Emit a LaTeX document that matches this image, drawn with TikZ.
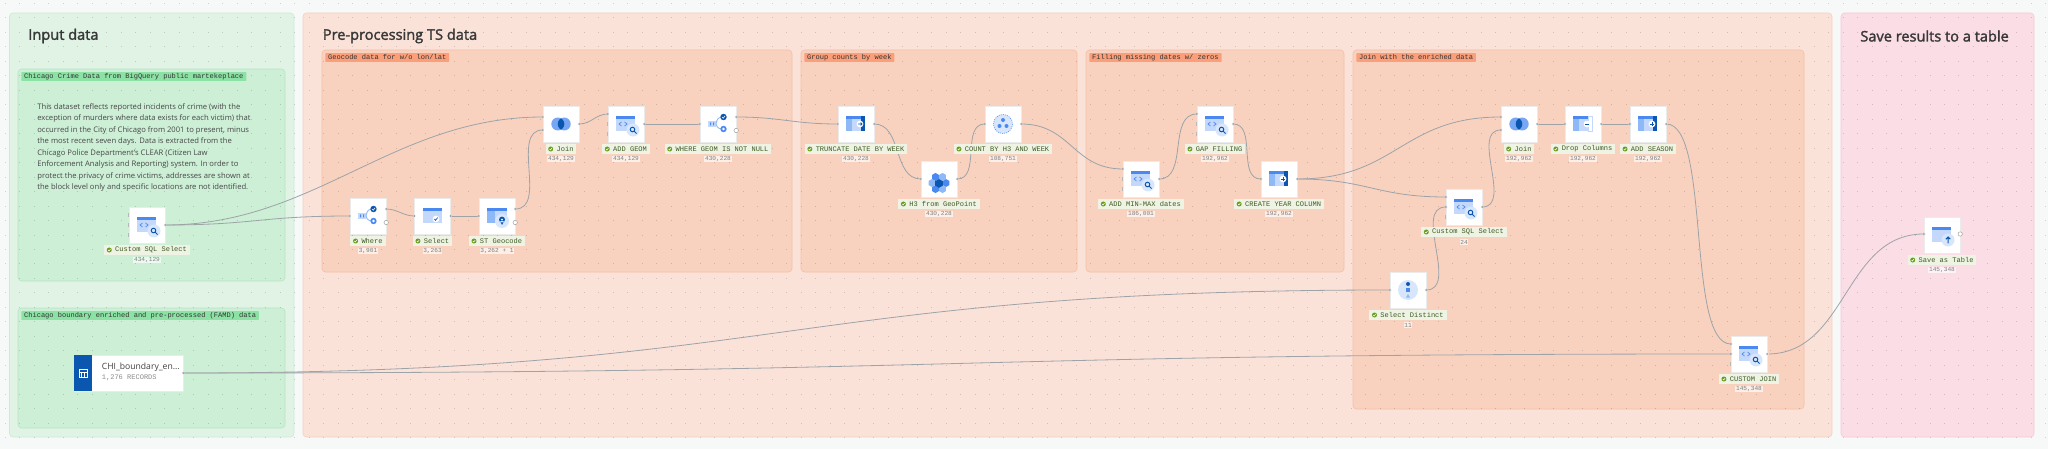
\documentclass[tikz,border=0pt]{standalone}
\usepackage{fontspec}
\setmainfont{Open Sans}
\setmonofont{Liberation Mono}
\def\heavytext#1{\special{pdf:code 2 Tr 0.16 w}#1\special{pdf:code 0 Tr 0 w}}
\usetikzlibrary{calc}

\definecolor{canvas}{HTML}{F7F9F8}
\definecolor{inputbg}{HTML}{E0F3E5}
\definecolor{inputln}{HTML}{CBEBD5}
\definecolor{inputsub}{HTML}{CCEFD6}
\definecolor{inputsubln}{HTML}{B7E6C5}
\definecolor{inputtag}{HTML}{8CE2A4}
\definecolor{prebg}{HTML}{FAE2D9}
\definecolor{preln}{HTML}{F7CFBC}
\definecolor{presub}{HTML}{F8D2BF}
\definecolor{presubln}{HTML}{F6BFA6}
\definecolor{pretag}{HTML}{FB9F7A}
\definecolor{savebg}{HTML}{FBDDE6}
\definecolor{saveln}{HTML}{F8C8D8}
\definecolor{icmid}{HTML}{4A8AF0}
\definecolor{iclight}{HTML}{C3D8FA}
\definecolor{icsoft}{HTML}{8FB8F6}
\definecolor{ichalo}{HTML}{D8E6FC}
\definecolor{icdark}{HTML}{0B57B0}
\definecolor{okgreen}{HTML}{6A9C1F}
\definecolor{labelink}{HTML}{3F5A22}
\definecolor{labelbg}{HTML}{EEF3E4}
\definecolor{wirecol}{HTML}{9EA3A8}

\pgfdeclarelayer{bg}
\pgfdeclarelayer{wires}
\pgfsetlayers{bg,wires,main}

\def\tablebase{
	\fill[iclight] (-10,-5) rectangle (9,7);
	\fill[icmid] (-10,-8) rectangle (9,-5);
}
\def\colbase{
	\fill[icsoft] (-10,-5) rectangle (-4,7);
	\fill[iclight] (-4,-5) rectangle (5,7);
	\fill[icmid] (-10,-8) rectangle (5,-5);
}

\tikzset{
	panel/.style={rounded corners=2pt, line width=0.35pt},
	titletext/.style={anchor=west, inner sep=0, text=black!78, font=\fontsize{8.3}{10}\selectfont},
	tagbox/.style={anchor=west, inner xsep=1.6pt, inner ysep=0, minimum height=5.1pt, rounded corners=0.4pt, text=black!80, font=\ttfamily\fontsize{4}{5}\selectfont},
	stepbox/.style={draw=black!8, line width=0.2pt, fill=white, minimum size=0.72cm, inner sep=0},
	steplabel/.style={fill=labelbg, inner xsep=1.7pt, inner ysep=0, minimum height=5.7pt, text=labelink, font=\ttfamily\fontsize{4}{5}\selectfont},
	stepcount/.style={fill=white, fill opacity=0.65, text opacity=1, inner xsep=0.4pt, inner ysep=0.3pt, text=black!50, font=\ttfamily\fontsize{3.5}{4}\selectfont},
	port/.style={circle, fill=black!42, draw=white, line width=0.12pt, minimum size=1.6pt, inner sep=0},
	openport/.style={circle, fill=white, draw=black!40, line width=0.25pt, minimum size=2.5pt, inner sep=0},
	stubport/.style={fill=black!28, minimum width=0.7pt, minimum height=2.2pt, inner sep=0},
	wire/.style={draw=wirecol, line width=0.46pt},
	checkmark/.pic={
		\fill[okgreen] (0,0) circle (2.5);
		\draw[white, line width=0.3pt] (-1.2,0) -- (-0.3,1) -- (1.2,-0.9);
	},
	sqlicon/.pic={
		\tablebase
		\fill[ichalo] (7,6) circle (6.5);
		\draw[icmid, line width=0.4pt] (-4.5,-2) -- (-7,0) -- (-4.5,2);
		\draw[icmid, line width=0.4pt] (-1.5,-2) -- (1,0) -- (-1.5,2);
		\draw[icdark, line width=0.55pt] (6.5,5.5) circle (2.3) (8.2,7.2) -- (10.5,9.5);
	},
	selecticon/.pic={
		\tablebase
		\fill[white] (3.5,3) circle (3.4);
		\draw[icdark, line width=0.4pt] (1.8,3) -- (3,4.3) -- (5.2,1.6);
	},
	geoicon/.pic={
		\fill[icsoft] (-10,-5) rectangle (10,7);
		\fill[iclight] (-2,-5) rectangle (10,7);
		\fill[icmid] (-10,-8) rectangle (10,-5);
		\fill[ichalo] (5,5) circle (7);
		\fill[icdark] (5,3.6) circle (3) (3,5) -- (5,9) -- (7,5) -- cycle;
		\fill[white] (5,3.6) circle (1);
	},
	whereicon/.pic={
		\fill[iclight] (-10,-3) rectangle (-2,3);
		\fill[icmid] (-8,-1.5) rectangle (-6.8,1.5) (-5,-1.5) rectangle (-3.8,1.5);
		\draw[icsoft, line width=0.5pt] (-2,0) .. controls (-1,-6) and (1,-7) .. (5.5,-7);
		\draw[icsoft, line width=0.5pt] (-2,0) .. controls (-1,4) and (1,5) .. (5.5,5);
		\fill[icdark] (5.5,-7) circle (3.2);
		\draw[white, line width=0.35pt] (4,-7) -- (5.2,-5.8) -- (7.1,-8.2);
		\fill[icmid] (5.5,5) circle (3.2);
		\fill[white] (5.5,5) circle (1.3);
	},
	joinicon/.pic={
		\fill[icmid!75!white] (-3.2,0) circle (6.5) (3.2,0) circle (6.5);
		\begin{scope}
			\clip (-3.2,0) circle (6.5);
			\fill[icdark] (3.2,0) circle (6.5);
		\end{scope}
	},
	truncicon/.pic={
		\colbase
		\fill[icdark] (5,-8) rectangle (9,7);
		\fill[white] (4,0) circle (3.4);
		\draw[icdark, line width=0.4pt] (2,0) -- (6,0) (4.6,-1.5) -- (6,0) -- (4.6,1.5);
	},
	addicon/.pic={
		\colbase
		\fill[icdark] (5,-8) rectangle (9,7);
		\fill[white] (4,0) circle (3.4);
		\draw[icdark, line width=0.4pt] (2,0) -- (6,0) (4,-2) -- (4,2);
	},
	dropicon/.pic={
		\colbase
		\fill[white] (5,-8) rectangle (9,7);
		\draw[iclight, line width=0.3pt] (5,-8) rectangle (9,7);
		\fill[white] (4,0) circle (3.4);
		\draw[icdark, line width=0.5pt] (2,0) -- (6,0);
	},
	hexicon/.pic={
		\foreach \a/\c in {0/icmid,60/icsoft,120/icmid,180/icsoft,240/icmid,300/icsoft}{
			\fill[\c] (\a:7) ++(30:4) -- ++(90:4) -- ++(150:4) -- ++(210:4) -- ++(270:4) -- ++(330:4) -- cycle;
		}
		\fill[icdark] (0,0) ++(30:4.4) -- ++(90:4.4) -- ++(150:4.4) -- ++(210:4.4) -- ++(270:4.4) -- ++(330:4.4) -- cycle;
	},
	clustericon/.pic={
		\fill[ichalo] (0,0) circle (9.5);
		\draw[icmid, line width=0.3pt, dash pattern=on 0.6pt off 0.6pt] (0,0) circle (9.5);
		\fill[icmid] (0,-4) circle (2) (-3.5,2) circle (2) (3.5,2) circle (2);
	},
	distincticon/.pic={
		\fill[ichalo] (0,0) circle (10);
		\fill[icdark] (0,-6) circle (2);
		\fill[icmid] (-2,-2) rectangle (2,2);
		\fill[icsoft] (-2,7.5) -- (0,4) -- (2,7.5) -- cycle;
	},
	saveicon/.pic={
		\tablebase
		\fill[ichalo] (6,5) circle (6.5);
		\draw[icdark, line width=0.6pt] (6,8.5) -- (6,2) (3.8,4.2) -- (6,2) -- (8.2,4.2);
	},
}

% box with its icon, label and record count below
\def\stepnode(#1)(#2,#3)#4#5#6{
	\node[stepbox] (#1) at (#2,#3) {};
	\pic at (#1) {#6};
	\node[steplabel] (#1-label) at (#2,#3+25) {\hspace*{4.6pt}#4};
	\pic at ($(#1-label.west)+(5.5,0)$) {checkmark};
	\node[stepcount] (#1-count) at (#2,#3+35) {#5};
}
\def\inport#1#2#3{\node[port] (#1) at ($(#2.west)+(0,#3)$) {};}
\def\outport#1#2#3{\node[port] (#1) at ($(#2.east)+(0,#3)$) {};}
\def\stubat#1#2#3{\node[stubport] (#1) at ($(#2.west)+(0,#3)$) {};}

\begin{document}
\begin{tikzpicture}[x=0.02cm, y=-0.02cm]
	\useasboundingbox (0,0) rectangle (2048,449);

	\begin{pgfonlayer}{bg}
		\fill[canvas] (0,0) rectangle (2048,449);

		%%%%% panels %%%%%
		\draw[panel, fill=inputbg, draw=inputln] (9.5,13) rectangle (294,437);
		\draw[panel, fill=prebg, draw=preln] (303,13) rectangle (1832,437);
		\draw[panel, fill=savebg, draw=saveln] (1841,13) rectangle (2034,437);

		\draw[panel, fill=inputsub, draw=inputsubln] (18,69) rectangle (285,281);
		\draw[panel, fill=inputsub, draw=inputsubln] (18,308) rectangle (285,428);

		\draw[panel, fill=presub, draw=presubln] (322,50) rectangle (792,272);
		\draw[panel, fill=presub, draw=presubln] (801,50) rectangle (1077,272);
		\draw[panel, fill=presub, draw=presubln] (1086,50) rectangle (1344,272);
		\draw[panel, fill=presub, draw=presubln] (1353,50) rectangle (1804,409);

		%%%%% dots %%%%%
		\foreach \i in {0,...,141}{
			\foreach \j in {0,...,31}{
				\fill[black, opacity=0.16] (5+\i*14.47,3+\j*14.47) rectangle +(1,1);
			}
		}
	\end{pgfonlayer}

	%%%%% titles and tags %%%%%
	\node[titletext] (input-title) at (28,36) {\heavytext{Input data}};
	\node[titletext] (pre-title) at (322.5,36) {\heavytext{Pre-processing TS data}};
	\node[titletext] (save-title) at (1860,36) {\heavytext{Save results to a table}};

	\node[tagbox, fill=inputtag] (crime-tag) at (21,76.5) {Chicago Crime Data from BigQuery public martekeplace};
	\node[tagbox, fill=inputtag] (boundary-tag) at (21,315.5) {Chicago boundary enriched and pre-processed (FAMD) data};
	\node[tagbox, fill=pretag] (geocode-tag) at (325,57.5) {Geocode data for w/o lon/lat};
	\node[tagbox, fill=pretag] (group-tag) at (804,57.5) {Group counts by week};
	\node[tagbox, fill=pretag] (filling-tag) at (1089,57.5) {Filling missing dates w/ zeros};
	\node[tagbox, fill=pretag] (enrich-tag) at (1356,57.5) {Join with the enriched data};

	\node[anchor=north west, inner sep=0, align=left, text=black!72, font=\fontsize{4.35}{6.55}\selectfont] (crime-text) at (37,103) {%
		This dataset reflects reported incidents of crime (with the\\
		exception of murders where data exists for each victim) that\\
		occurred in the City of Chicago from 2001 to present, minus\\
		the most recent seven days. Data is extracted from the\\
		Chicago Police Department's CLEAR (Citizen Law\\
		Enforcement Analysis and Reporting) system. In order to\\
		protect the privacy of crime victims, addresses are shown at\\
		the block level only and specific locations are not identified.};

	%%%%% boundary table %%%%%
	\node[draw=black!8, line width=0.2pt, fill=white, minimum width=2.18cm, minimum height=0.72cm, inner sep=0] (chi) at (128.5,373) {};
	\node[fill=icdark, minimum width=0.36cm, minimum height=0.72cm, inner sep=0] (chi-bar) at (83,373) {};
	\draw[white, line width=0.35pt] (79,369.5) rectangle (87,377) (79,372) -- (87,372) (81.7,372) -- (81.7,377) (84.3,372) -- (84.3,377);
	\node[anchor=west, inner sep=0, text=black!75, font=\fontsize{4.9}{6}\selectfont] (chi-name) at (101.5,367) {CHI\_boundary\_en...};
	\node[anchor=west, inner sep=0, text=black!45, font=\ttfamily\fontsize{4}{5}\selectfont] (chi-records) at (101.5,378) {1,276 RECORDS};

	%%%%% steps %%%%%
	\stepnode(crimesql)(147,225){Custom SQL Select}{434,129}{sqlicon}
	\stepnode(where)(368,216){Where}{3,901}{whereicon}
	\stepnode(select)(432.5,216){Select}{3,263}{selecticon}
	\stepnode(stgeo)(497,216){ST Geocode}{3,262 + 1}{geoicon}
	\stepnode(joingeo)(561,124){Join}{434,129}{joinicon}
	\stepnode(addgeom)(626,124){ADD GEOM}{434,129}{sqlicon}
	\stepnode(notnull)(718,124){WHERE GEOM IS NOT NULL}{430,228}{whereicon}

	\stepnode(truncate)(856,124){TRUNCATE DATE BY WEEK}{430,228}{truncicon}
	\stepnode(hexpoint)(939,179){H3 from GeoPoint}{430,228}{hexicon}
	\stepnode(countweek)(1003,124){COUNT BY H3 AND WEEK}{108,751}{clustericon}

	\stepnode(minmax)(1141,179){ADD MIN-MAX dates}{186,001}{sqlicon}
	\stepnode(gapfill)(1215,124){GAP FILLING}{192,962}{sqlicon}
	\stepnode(yearcol)(1279,179){CREATE YEAR COLUMN}{192,962}{addicon}

	\stepnode(joinrich)(1519,124){Join}{192,962}{joinicon}
	\stepnode(dropcol)(1583,124){Drop Columns}{192,962}{dropicon}
	\stepnode(season)(1648,124){ADD SEASON}{192,962}{addicon}
	\stepnode(richsql)(1464,207){Custom SQL Select}{24}{sqlicon}
	\stepnode(distinct)(1408,290){Select Distinct}{11}{distincticon}
	\stepnode(customjoin)(1749,354){CUSTOM JOIN}{145,348}{sqlicon}
	\stepnode(savetable)(1942,235){Save as Table}{145,348}{saveicon}

	%%%%% ports %%%%%
	\outport{crimesql-o}{crimesql}{0}
	\stubat{crimesql-s1}{crimesql}{-10}
	\stubat{crimesql-s2}{crimesql}{0}
	\stubat{crimesql-s3}{crimesql}{10}
	\node[port] (chi-o) at (chi.east) {};
	\inport{where-i}{where}{0}
	\outport{where-o}{where}{-7}
	\node[openport] (where-x) at ($(where.east)+(0,6.5)$) {};
	\inport{select-i}{select}{0}
	\outport{select-o}{select}{0}
	\inport{stgeo-i}{stgeo}{0}
	\outport{stgeo-o}{stgeo}{-7}
	\node[openport] (stgeo-x) at ($(stgeo.east)+(0,6.5)$) {};
	\inport{joingeo-a}{joingeo}{-7}
	\inport{joingeo-b}{joingeo}{6}
	\outport{joingeo-o}{joingeo}{0}
	\inport{addgeom-i}{addgeom}{-10}
	\stubat{addgeom-s1}{addgeom}{0}
	\stubat{addgeom-s2}{addgeom}{10}
	\outport{addgeom-o}{addgeom}{0}
	\inport{notnull-i}{notnull}{0}
	\outport{notnull-o}{notnull}{-7}
	\node[openport] (notnull-x) at ($(notnull.east)+(0,6.5)$) {};
	\inport{truncate-i}{truncate}{0}
	\outport{truncate-o}{truncate}{0}
	\inport{hexpoint-i}{hexpoint}{0}
	\outport{hexpoint-o}{hexpoint}{0}
	\inport{countweek-i}{countweek}{0}
	\outport{countweek-o}{countweek}{0}
	\inport{minmax-i}{minmax}{-10}
	\stubat{minmax-s1}{minmax}{0}
	\stubat{minmax-s2}{minmax}{10}
	\outport{minmax-o}{minmax}{0}
	\inport{gapfill-i}{gapfill}{-10}
	\stubat{gapfill-s1}{gapfill}{0}
	\stubat{gapfill-s2}{gapfill}{10}
	\outport{gapfill-o}{gapfill}{0}
	\inport{yearcol-i}{yearcol}{0}
	\outport{yearcol-o}{yearcol}{0}
	\inport{joinrich-a}{joinrich}{-7}
	\inport{joinrich-b}{joinrich}{6}
	\outport{joinrich-o}{joinrich}{0}
	\inport{dropcol-i}{dropcol}{0}
	\outport{dropcol-o}{dropcol}{0}
	\inport{season-i}{season}{0}
	\outport{season-o}{season}{0}
	\inport{richsql-a}{richsql}{-10}
	\inport{richsql-b}{richsql}{0}
	\stubat{richsql-s1}{richsql}{10}
	\outport{richsql-o}{richsql}{0}
	\inport{distinct-i}{distinct}{0}
	\outport{distinct-o}{distinct}{0}
	\inport{customjoin-a}{customjoin}{-10}
	\inport{customjoin-b}{customjoin}{0}
	\stubat{customjoin-s1}{customjoin}{10}
	\outport{customjoin-o}{customjoin}{0}
	\inport{savetable-i}{savetable}{-1}
	\node[openport] (savetable-x) at ($(savetable.east)+(0,-1)$) {};

	%%%%% connectors %%%%%
	\begin{pgfonlayer}{wires}
		\draw[wire] (crimesql-o.center) .. controls +(150,0) and +(-150,0) .. (joingeo-a.center);
		\draw[wire] (crimesql-o.center) .. controls +(90,0) and +(-90,0) .. (where-i.center);
		\draw[wire] (where-o.center) to[out=0, in=180] (select-i.center);
		\draw[wire] (select-o.center) -- (stgeo-i.center);
		\draw[wire] (stgeo-o.center) to[out=0, in=180] (joingeo-b.center);
		\draw[wire] (joingeo-o.center) to[out=0, in=180] (addgeom-i.center);
		\draw[wire] (addgeom-o.center) -- (notnull-i.center);
		\draw[wire] (notnull-o.center) .. controls +(45,0) and +(-45,0) .. (truncate-i.center);
		\draw[wire] (truncate-o.center) to[out=0, in=180] (hexpoint-i.center);
		\draw[wire] (hexpoint-o.center) to[out=0, in=180] (countweek-i.center);
		\draw[wire] (countweek-o.center) .. controls +(50,0) and +(-50,0) .. (minmax-i.center);
		\draw[wire] (minmax-o.center) to[out=0, in=180] (gapfill-i.center);
		\draw[wire] (gapfill-o.center) to[out=0, in=180] (yearcol-i.center);
		\draw[wire] (yearcol-o.center) .. controls +(100,0) and +(-100,0) .. (joinrich-a.center);
		\draw[wire] (yearcol-o.center) .. controls +(70,0) and +(-70,0) .. (richsql-a.center);
		\draw[wire] (distinct-o.center) to[out=0, in=180] (richsql-b.center);
		\draw[wire] (richsql-o.center) to[out=0, in=180] (joinrich-b.center);
		\draw[wire] (joinrich-o.center) -- (dropcol-i.center);
		\draw[wire] (dropcol-o.center) -- (season-i.center);
		\draw[wire] (season-o.center) .. controls +(45,0) and +(-45,0) .. (customjoin-a.center);
		\draw[wire] (chi-o.center) .. controls +(600,0) and +(-600,0) .. (distinct-i.center);
		\draw[wire] (chi-o.center) .. controls +(800,0) and +(-800,0) .. (customjoin-b.center);
		\draw[wire] (customjoin-o.center) .. controls +(80,0) and +(-80,0) .. (savetable-i.center);
	\end{pgfonlayer}
\end{tikzpicture}
\end{document}
